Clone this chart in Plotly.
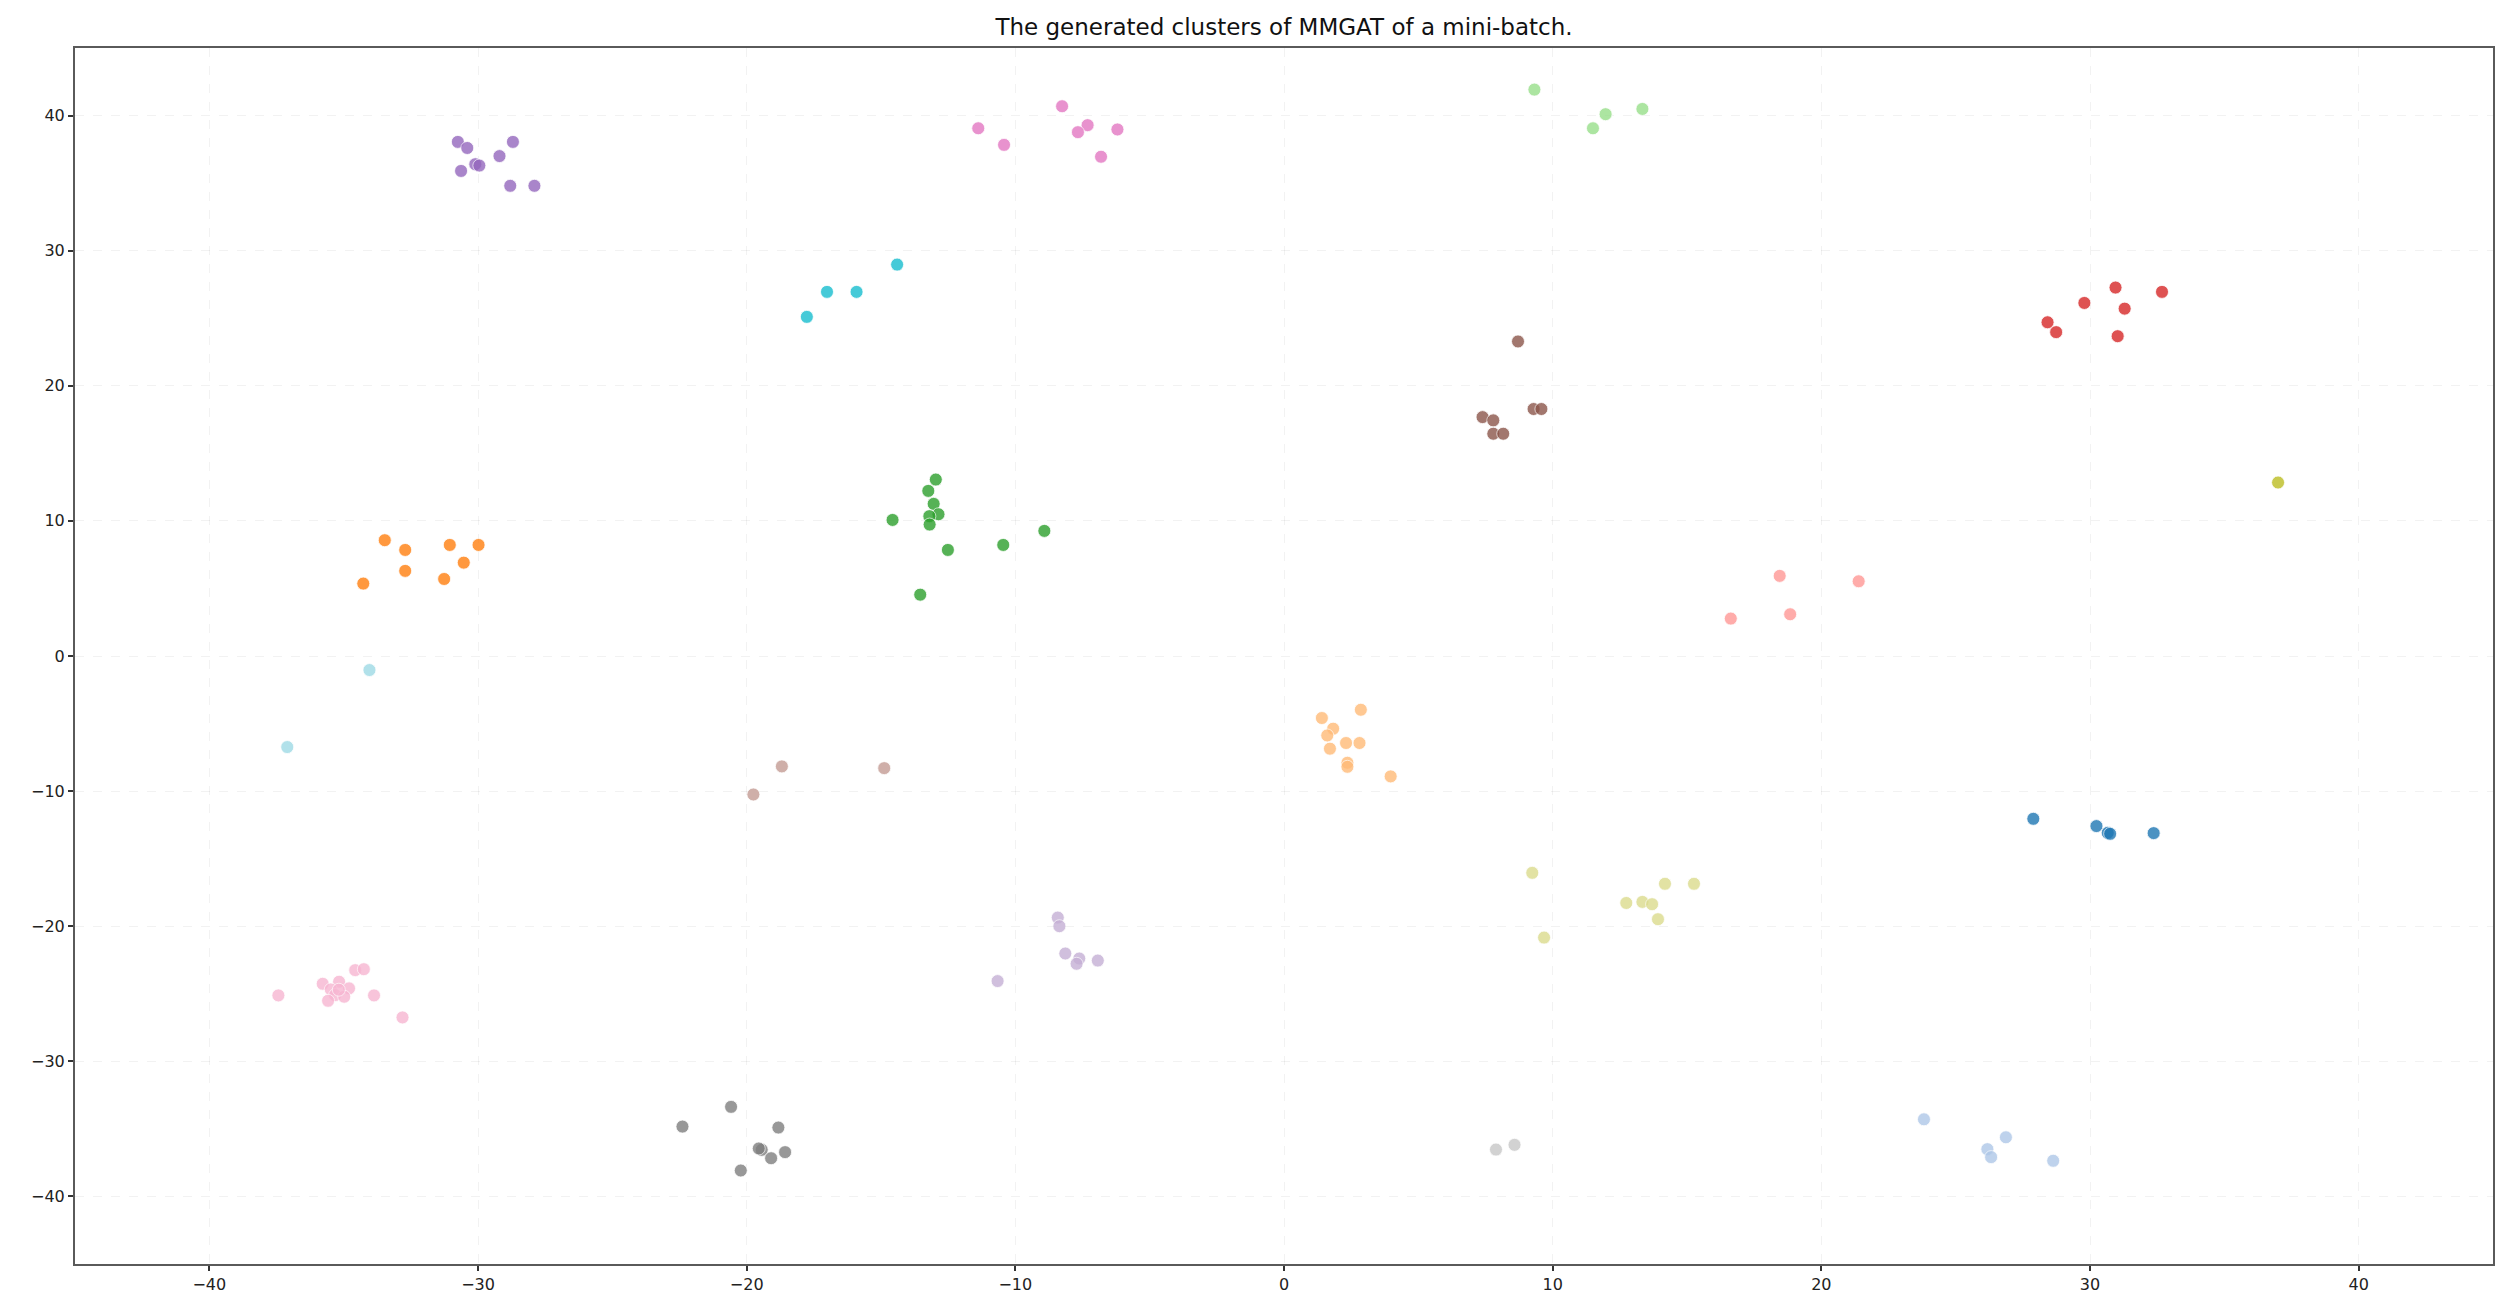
import plotly.graph_objects as go

# ---- data ----
blue_x = [27.89, 30.24, 30.66, 30.75, 32.37]
blue_y = [-12.05, -12.59, -13.09, -13.16, -13.11]

lightblue_x = [23.82, 26.87, 26.18, 26.32, 28.63]
lightblue_y = [-34.29, -35.62, -36.5, -37.09, -37.36]

orange_x = [-33.47, -32.71, -31.05, -29.98, -30.53, -32.71, -31.26, -34.27]
orange_y = [8.57, 7.85, 8.22, 8.22, 6.91, 6.3, 5.7, 5.36]

lightorange_x = [1.41, 2.86, 1.83, 1.61, 1.71, 2.31, 2.81, 2.36, 2.36, 3.97]
lightorange_y = [-4.59, -3.98, -5.38, -5.88, -6.86, -6.44, -6.44, -7.9, -8.2, -8.91]

green_x = [-12.96, -13.24, -13.04, -12.86, -13.2, -13.19, -14.57, -12.51, -10.45, -8.92, -13.54]
green_y = [13.06, 12.22, 11.26, 10.49, 10.35, 9.73, 10.07, 7.85, 8.22, 9.26, 4.54]

lightgreen_x = [9.32, 11.97, 11.5, 13.34]
lightgreen_y = [41.92, 40.1, 39.06, 40.49]

red_x = [28.42, 28.74, 29.79, 30.95, 31.29, 32.68, 31.03]
red_y = [24.7, 23.97, 26.13, 27.27, 25.71, 26.95, 23.67]

lightred_x = [18.45, 21.39, 16.63, 18.84]
lightred_y = [5.93, 5.53, 2.77, 3.09]

purple_x = [-30.75, -30.4, -28.7, -29.2, -30.1, -29.95, -30.63, -28.8, -27.9]
purple_y = [38.05, 37.6, 38.05, 37.0, 36.4, 36.3, 35.9, 34.8, 34.8]

lightpurple_x = [-8.42, -8.36, -8.14, -7.62, -7.72, -6.93, -10.66]
lightpurple_y = [-19.36, -20.0, -22.02, -22.39, -22.78, -22.54, -24.06]

brown_x = [8.71, 9.29, 9.58, 7.39, 7.79, 7.79, 8.16]
brown_y = [23.28, 18.28, 18.28, 17.68, 17.44, 16.45, 16.45]

lightbrown_x = [-18.69, -14.88, -19.75]
lightbrown_y = [-8.17, -8.3, -10.25]

pink_x = [-11.38, -10.42, -8.26, -7.31, -7.67, -6.2, -6.81]
pink_y = [39.06, 37.83, 40.69, 39.29, 38.77, 38.97, 36.95]

lightpink_x = [-37.43, -35.78, -35.17, -34.57, -34.25, -35.48, -34.8, -35.32, -34.98, -35.58, -33.87, -32.81, -35.18]
lightpink_y = [-25.12, -24.26, -24.11, -23.25, -23.18, -24.68, -24.6, -25.1, -25.22, -25.52, -25.12, -26.75, -24.7]

gray_x = [-22.39, -20.58, -18.82, -19.44, -19.55, -19.09, -18.57, -20.22]
gray_y = [-34.83, -33.37, -34.9, -36.55, -36.45, -37.17, -36.72, -38.08]

lightgray_x = [7.89, 8.58]
lightgray_y = [-36.53, -36.18]

olive_x = [37.0]
olive_y = [12.84]

lightolive_x = [9.24, 14.18, 15.26, 12.74, 13.34, 13.7, 13.92, 9.68]
lightolive_y = [-16.05, -16.86, -16.86, -18.28, -18.2, -18.37, -19.48, -20.84]

cyan_x = [-17.76, -17.01, -15.91, -14.4]
cyan_y = [25.1, 26.95, 26.95, 28.97]

lightcyan_x = [-34.04, -37.1]
lightcyan_y = [-1.04, -6.74]

tick_vals = [-40, -30, -20, -10, 0, 10, 20, 30, 40]
tick_text = ["\u221240", "\u221230", "\u221220", "\u221210", "0", "10", "20", "30", "40"]

title_text = "The generated clusters of MMGAT of a mini-batch."

clusters = [
    (blue_x, blue_y, "#1f77b4"),
    (lightblue_x, lightblue_y, "#aec7e8"),
    (orange_x, orange_y, "#ff7f0e"),
    (lightorange_x, lightorange_y, "#ffbb78"),
    (green_x, green_y, "#2ca02c"),
    (lightgreen_x, lightgreen_y, "#98df8a"),
    (red_x, red_y, "#d62728"),
    (lightred_x, lightred_y, "#ff9896"),
    (purple_x, purple_y, "#9467bd"),
    (lightpurple_x, lightpurple_y, "#c5b0d5"),
    (brown_x, brown_y, "#8c564b"),
    (lightbrown_x, lightbrown_y, "#c49c94"),
    (pink_x, pink_y, "#e377c2"),
    (lightpink_x, lightpink_y, "#f7b6d2"),
    (gray_x, gray_y, "#7f7f7f"),
    (lightgray_x, lightgray_y, "#c7c7c7"),
    (olive_x, olive_y, "#bcbd22"),
    (lightolive_x, lightolive_y, "#dbdb8d"),
    (cyan_x, cyan_y, "#17becf"),
    (lightcyan_x, lightcyan_y, "#9edae5"),
]

fig = go.Figure()
for xs, ys, col in clusters:
    fig.add_trace(go.Scatter(
        x=xs, y=ys, mode="markers",
        marker=dict(size=13, color=col, opacity=0.8,
                    line=dict(width=0.8, color="white")),
        hoverinfo="skip", showlegend=False,
    ))

W, H = 2506, 1308
axis_common = dict(
    range=[-45, 45], tickmode="array", tickvals=tick_vals, ticktext=tick_text,
    showline=True, mirror=True, linecolor="#5a5a5a", linewidth=2,
    ticks="outside", ticklen=5, tickwidth=1.5, tickcolor="#333333",
    showgrid=True, gridcolor="rgba(0,0,0,0.05)", griddash="dash", gridwidth=1,
    zeroline=False, tickfont=dict(family="DejaVu Sans", size=16, color="#222222"),
)

fig.update_layout(
    width=W, height=H,
    margin=dict(l=75, r=13, t=48, b=44),
    paper_bgcolor="white", plot_bgcolor="white",
    title=dict(text=title_text, x=(75 + (W - 13)) / 2 / W, xanchor="center",
               y=1 - 27 / H, yanchor="middle", yref="container", xref="container",
               font=dict(family="DejaVu Sans", size=23, color="#111111")),
    xaxis=axis_common,
    yaxis=axis_common,
    showlegend=False,
)

fig.write_html("out.html", config={"displayModeBar": False},
               post_script="document.body.style.margin='0';document.body.style.overflow='hidden';")
